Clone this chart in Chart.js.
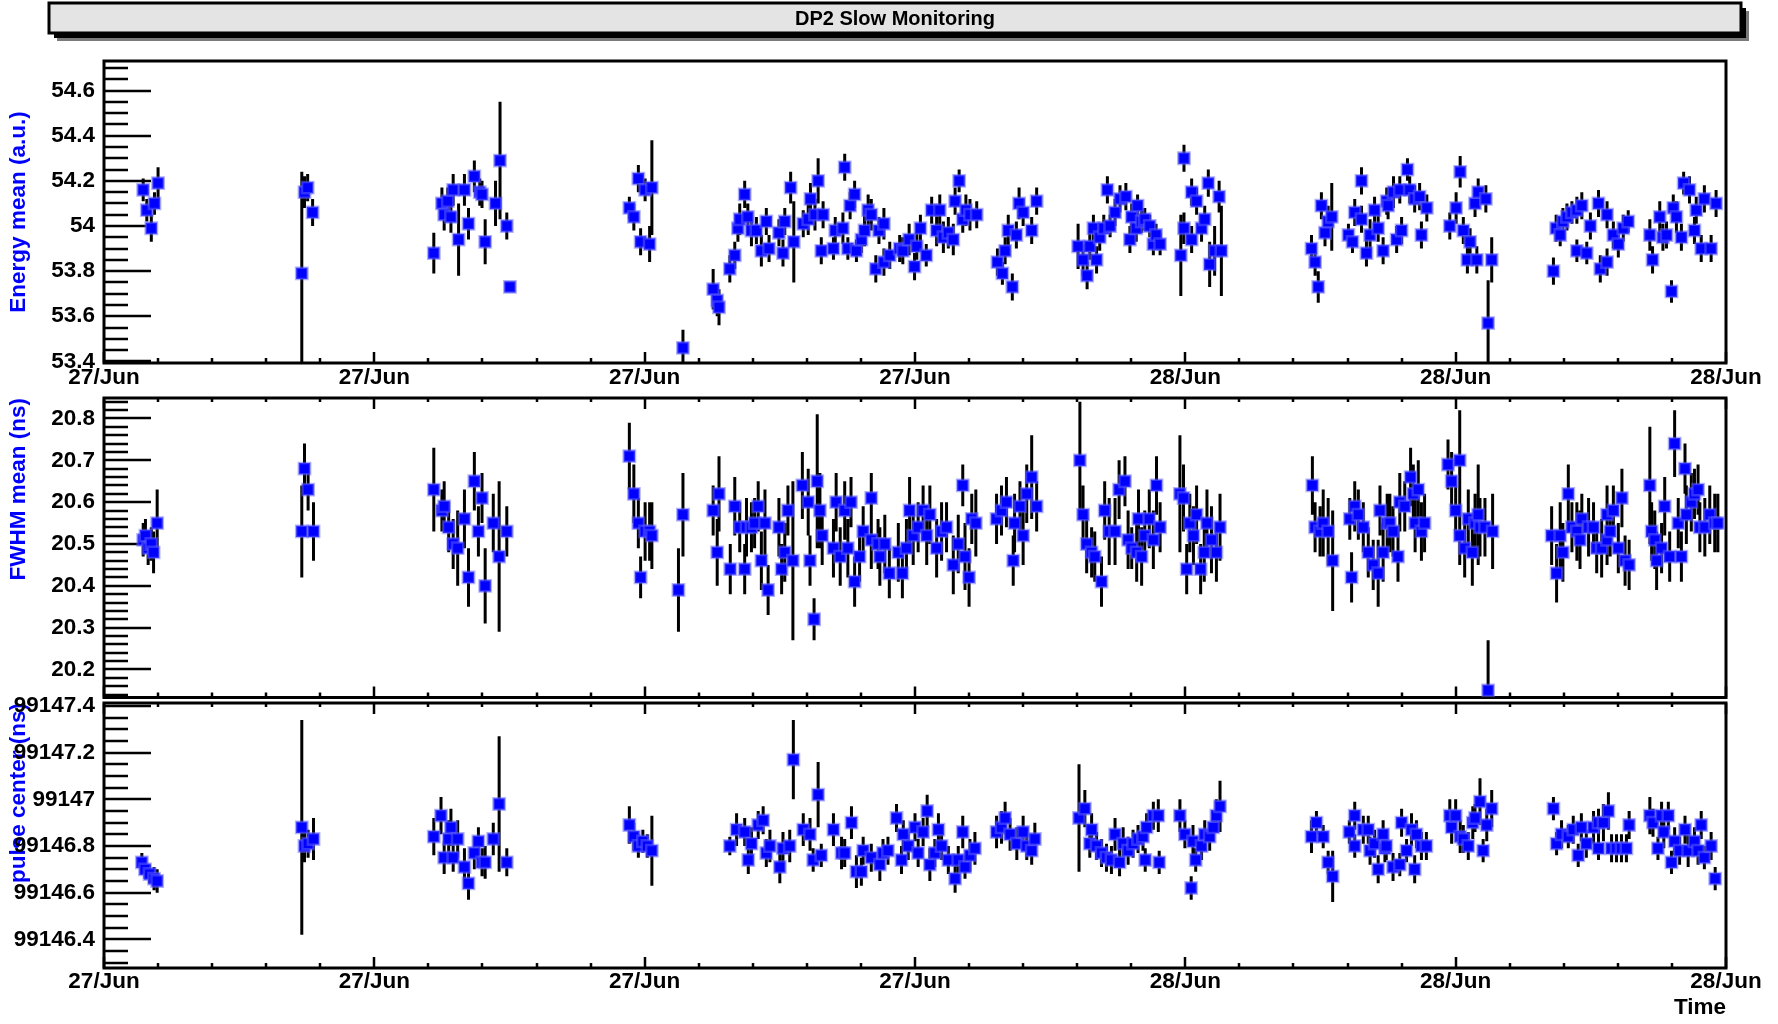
<!DOCTYPE html>
<html>
<head>
<meta charset="utf-8">
<title>DP2 Slow Monitoring</title>
<script src="https://cdn.jsdelivr.net/npm/chart.js@4.4.1/dist/chart.umd.min.js"></script>
<style>
  body { margin: 0; background: #fff; }
  #page { position: relative; width: 1778px; height: 1024px; overflow: hidden; background: #fff; }
  canvas { position: absolute; left: 0; }
</style>
</head>
<body>
<div id="page">
  <canvas id="energy" width="1778" height="400" style="top:0px"></canvas>
  <canvas id="fwhm" width="1778" height="350" style="top:370px"></canvas>
  <canvas id="pulse" width="1778" height="344" style="top:680px"></canvas>
</div>
<script>
"use strict";

// hours since 27/Jun 00:00
const chartTitle = "DP2 Slow Monitoring";
const xMajorTicks = [0, 6, 12, 18, 24, 30, 36];
const xTickLabels = ["27/Jun", "27/Jun", "27/Jun", "27/Jun", "28/Jun", "28/Jun", "28/Jun"];

const energyTicks = [53.4, 53.6, 53.8, 54, 54.2, 54.4, 54.6];
const fwhmTicks = [20.2, 20.3, 20.4, 20.5, 20.6, 20.7, 20.8];
const pulseTicks = [99146.4, 99146.6, 99146.8, 99147, 99147.2, 99147.4];

// [time, mean, error]
const energyData = [
  [0.87,54.16,0.05],[0.95,54.07,0.05],[1.05,53.99,0.06],[1.12,54.10,0.05],[1.2,54.19,0.07],
  [4.39,53.79,0.45],[4.45,54.15,0.07],[4.52,54.17,0.06],[4.63,54.06,0.06],
  [7.32,53.88,0.09],[7.50,54.10,0.07],[7.55,54.05,0.07],[7.63,54.11,0.06],[7.70,54.04,0.07],[7.75,54.16,0.07],
  [7.87,53.94,0.16],[8.0,54.16,0.07],[8.09,54.01,0.07],[8.22,54.22,0.07],[8.34,54.15,0.06],[8.39,54.14,0.06],
  [8.46,53.93,0.1],[8.69,54.10,0.1],[8.79,54.29,0.26],[8.94,54.00,0.06],[9.01,53.73,0.02],
  [11.66,54.08,0.05],[11.76,54.04,0.06],[11.86,54.21,0.06],[11.91,53.93,0.06],[12.01,54.16,0.05],
  [12.11,53.92,0.08],[12.16,54.17,0.21],[12.85,53.46,0.08],
  [13.52,53.72,0.09],[13.61,53.67,0.07],[13.65,53.64,0.08],[13.89,53.81,0.06],[14.0,53.87,0.06],[14.07,53.99,0.06],
  [14.11,54.03,0.07],[14.22,54.14,0.06],[14.29,54.04,0.06],[14.37,53.98,0.07],[14.48,53.98,0.06],[14.59,53.89,0.07],
  [14.7,54.02,0.06],[14.76,53.90,0.06],[14.98,53.97,0.06],[15.07,53.88,0.06],[15.11,54.02,0.06],[15.24,54.17,0.07],
  [15.31,53.93,0.18],[15.52,54.01,0.06],[15.63,54.03,0.07],[15.68,54.12,0.07],[15.78,54.05,0.07],[15.85,54.2,0.1],
  [15.92,53.89,0.06],[15.96,54.05,0.06],[16.19,53.9,0.05],[16.23,53.98,0.06],[16.4,53.99,0.07],[16.44,54.26,0.06],
  [16.51,53.90,0.05],[16.56,54.09,0.06],[16.66,54.14,0.06],[16.7,53.89,0.05],[16.81,53.94,0.06],[16.88,53.98,0.07],
  [16.96,54.07,0.07],[17.03,54.05,0.07],[17.13,53.81,0.06],[17.2,53.98,0.06],[17.31,54.01,0.07],[17.31,53.84,0.06],
  [17.44,53.87,0.06],[17.66,53.90,0.06],[17.73,53.89,0.06],[17.87,53.94,0.07],[17.99,53.82,0.06],[18.04,53.91,0.06],
  [18.12,53.99,0.06],[18.25,53.87,0.05],[18.37,54.07,0.06],[18.48,53.98,0.07],[18.55,54.07,0.07],[18.63,53.95,0.07],
  [18.74,53.97,0.07],[18.85,53.94,0.07],[18.89,54.11,0.06],[18.98,54.20,0.05],[19.06,54.03,0.06],[19.13,54.07,0.07],
  [19.22,54.05,0.07],[19.37,54.05,0.06],[19.83,53.84,0.06],[19.94,53.79,0.05],[20.0,53.89,0.06],[20.07,53.98,0.07],
  [20.16,53.73,0.06],[20.25,53.96,0.06],[20.31,54.10,0.07],[20.4,54.06,0.06],[20.59,53.98,0.06],[20.7,54.11,0.06],
  [21.62,53.91,0.1],[21.73,53.85,0.07],[21.82,53.78,0.06],[21.88,53.91,0.06],[21.96,53.99,0.06],[22.03,53.85,0.06],
  [22.1,53.95,0.06],[22.19,53.99,0.06],[22.27,54.16,0.06],[22.33,54.0,0.05],[22.44,54.06,0.06],[22.55,54.12,0.06],
  [22.68,54.13,0.06],[22.77,53.94,0.06],[22.81,54.04,0.06],[22.91,53.99,0.06],[22.94,54.09,0.05],[23.03,54.02,0.05],
  [23.1,54.03,0.05],[23.21,54.0,0.05],[23.29,53.92,0.05],[23.35,53.96,0.05],[23.44,53.92,0.05],
  [23.9,53.87,0.18],[23.97,54.30,0.06],[23.97,53.99,0.07],[24.14,54.15,0.06],[24.14,53.94,0.06],[24.25,54.11,0.06],
  [24.36,53.99,0.06],[24.43,54.03,0.06],[24.51,54.19,0.06],[24.54,53.83,0.1],[24.65,53.89,0.11],[24.75,54.13,0.07],
  [24.8,53.89,0.2],
  [26.8,53.90,0.06],[26.88,53.84,0.06],[26.95,53.73,0.07],[27.02,54.09,0.06],[27.1,53.97,0.06],[27.17,54.02,0.07],
  [27.25,54.04,0.15],[27.62,53.96,0.05],[27.71,53.93,0.05],[27.76,54.06,0.06],[27.91,54.2,0.06],[27.91,54.03,0.06],
  [28.02,53.88,0.06],[28.1,53.96,0.07],[28.2,54.07,0.06],[28.28,53.99,0.06],[28.39,53.89,0.06],[28.47,54.11,0.06],
  [28.5,54.09,0.06],[28.62,54.15,0.07],[28.69,53.94,0.06],[28.76,54.16,0.06],[28.8,53.98,0.06],[28.93,54.25,0.05],
  [28.98,54.16,0.06],[29.09,54.12,0.06],[29.2,54.13,0.06],[29.24,53.96,0.06],[29.36,54.08,0.06],
  [29.87,54.0,0.06],[30.01,54.08,0.07],[30.1,54.24,0.07],[30.17,53.98,0.06],[30.26,53.85,0.06],[30.32,53.93,0.06],
  [30.43,54.1,0.06],[30.47,53.85,0.06],[30.5,54.15,0.06],[30.67,54.12,0.06],[30.72,53.57,0.19],[30.8,53.85,0.1],
  [32.17,53.80,0.06],[32.23,53.99,0.06],[32.32,53.96,0.05],[32.38,54.02,0.06],[32.47,54.04,0.06],[32.58,54.06,0.05],
  [32.69,53.89,0.05],[32.69,54.07,0.06],[32.8,54.09,0.06],[32.91,53.88,0.05],[32.99,54.0,0.06],[33.17,54.10,0.06],
  [33.21,53.81,0.06],[33.36,53.84,0.06],[33.36,54.05,0.06],[33.5,53.96,0.06],[33.61,53.92,0.06],[33.72,53.99,0.06],
  [33.83,54.02,0.05],
  [34.31,53.96,0.07],[34.37,53.85,0.06],[34.53,54.04,0.07],[34.6,53.95,0.06],[34.68,53.96,0.06],[34.79,53.71,0.05],
  [34.83,54.08,0.06],[34.9,54.04,0.07],[35.01,53.95,0.06],[35.06,54.19,0.05],[35.19,54.16,0.06],[35.3,53.98,0.06],
  [35.34,54.07,0.06],[35.45,53.9,0.06],[35.52,54.12,0.06],[35.67,53.9,0.06],[35.78,54.10,0.06]
];

const fwhmData = [
  [0.87,20.51,0.04],[0.92,20.52,0.04],[0.98,20.49,0.04],[1.05,20.5,0.04],[1.1,20.48,0.05],[1.18,20.55,0.08],
  [4.39,20.53,0.11],[4.45,20.68,0.06],[4.53,20.63,0.05],[4.65,20.53,0.07],
  [7.32,20.63,0.1],[7.50,20.58,0.05],[7.55,20.59,0.06],[7.65,20.54,0.06],[7.75,20.5,0.06],[7.85,20.49,0.09],
  [8.0,20.56,0.07],[8.09,20.42,0.07],[8.22,20.65,0.07],[8.31,20.53,0.06],[8.39,20.61,0.06],[8.46,20.40,0.09],
  [8.64,20.55,0.07],[8.77,20.47,0.18],[8.94,20.53,0.06],
  [11.66,20.71,0.08],[11.76,20.62,0.07],[11.86,20.55,0.06],[11.91,20.42,0.05],[12.01,20.53,0.07],[12.11,20.53,0.07],
  [12.16,20.52,0.08],[12.75,20.39,0.1],[12.85,20.57,0.1],
  [13.52,20.58,0.06],[13.61,20.48,0.08],[13.65,20.62,0.09],[13.9,20.44,0.06],[14.0,20.59,0.07],[14.11,20.54,0.06],
  [14.22,20.44,0.06],[14.26,20.54,0.07],[14.37,20.54,0.06],[14.44,20.55,0.06],[14.52,20.59,0.06],[14.59,20.46,0.07],
  [14.67,20.55,0.08],[14.74,20.39,0.06],[14.98,20.54,0.07],[15.04,20.44,0.06],[15.11,20.48,0.07],[15.18,20.58,0.06],
  [15.29,20.46,0.19],[15.5,20.64,0.08],[15.63,20.60,0.08],[15.67,20.46,0.06],[15.76,20.32,0.05],[15.83,20.65,0.16],
  [15.89,20.58,0.09],[15.94,20.52,0.07],[16.19,20.49,0.07],[16.25,20.6,0.07],[16.34,20.47,0.07],[16.44,20.58,0.07],
  [16.51,20.49,0.07],[16.58,20.6,0.06],[16.66,20.41,0.06],[16.77,20.47,0.06],[16.85,20.53,0.06],[17.03,20.61,0.06],
  [17.03,20.51,0.07],[17.18,20.5,0.06],[17.22,20.47,0.07],[17.33,20.5,0.07],[17.43,20.43,0.06],[17.63,20.48,0.07],
  [17.72,20.43,0.06],[17.81,20.49,0.07],[17.88,20.58,0.08],[17.96,20.52,0.07],[18.07,20.54,0.06],[18.18,20.58,0.06],
  [18.26,20.52,0.07],[18.33,20.57,0.07],[18.48,20.49,0.07],[18.59,20.53,0.07],[18.7,20.54,0.06],[18.85,20.45,0.07],
  [18.96,20.50,0.07],[19.06,20.64,0.05],[19.11,20.47,0.08],[19.2,20.42,0.07],[19.26,20.56,0.06],[19.35,20.55,0.08],
  [19.81,20.56,0.06],[19.92,20.58,0.06],[20.03,20.6,0.06],[20.18,20.46,0.06],[20.21,20.55,0.07],[20.33,20.59,0.06],
  [20.4,20.52,0.07],[20.48,20.62,0.07],[20.59,20.66,0.1],[20.7,20.59,0.06],
  [21.66,20.70,0.14],[21.73,20.57,0.07],[21.81,20.5,0.07],[21.92,20.48,0.06],[21.99,20.47,0.06],[22.14,20.41,0.06],
  [22.21,20.58,0.07],[22.31,20.53,0.08],[22.44,20.53,0.08],[22.53,20.63,0.07],[22.66,20.65,0.06],[22.73,20.51,0.07],
  [22.81,20.49,0.05],[22.92,20.48,0.07],[22.96,20.56,0.07],[23.03,20.47,0.07],[23.1,20.52,0.06],[23.2,20.56,0.07],
  [23.29,20.51,0.07],[23.36,20.64,0.07],[23.44,20.54,0.06],
  [23.88,20.62,0.14],[23.96,20.61,0.08],[24.03,20.44,0.06],[24.1,20.55,0.07],[24.18,20.52,0.07],[24.25,20.57,0.07],
  [24.34,20.44,0.06],[24.42,20.48,0.07],[24.48,20.55,0.08],[24.58,20.51,0.08],[24.69,20.48,0.07],[24.77,20.54,0.08],
  [26.82,20.64,0.07],[26.88,20.54,0.06],[26.99,20.53,0.06],[27.06,20.55,0.08],[27.17,20.53,0.08],[27.27,20.46,0.12],
  [27.65,20.56,0.05],[27.69,20.42,0.06],[27.76,20.59,0.06],[27.84,20.57,0.06],[27.95,20.54,0.06],[28.06,20.48,0.06],
  [28.17,20.45,0.06],[28.28,20.43,0.08],[28.32,20.58,0.06],[28.39,20.48,0.07],[28.48,20.55,0.07],
  [28.54,20.55,0.07],[28.61,20.53,0.06],[28.72,20.47,0.06],[28.76,20.6,0.07],[28.87,20.59,0.06],[29.0,20.66,0.07],
  [29.06,20.62,0.07],[29.1,20.55,0.07],[29.17,20.63,0.07],[29.24,20.53,0.07],[29.31,20.55,0.07],
  [29.83,20.69,0.06],[29.91,20.65,0.07],[30.0,20.58,0.06],[30.09,20.70,0.12],[30.09,20.52,0.07],[30.2,20.49,0.07],
  [30.28,20.56,0.07],[30.37,20.48,0.08],[30.43,20.55,0.07],[30.5,20.57,0.12],[30.54,20.54,0.07],[30.65,20.54,0.07],
  [30.72,20.15,0.12],[30.82,20.53,0.09],
  [32.13,20.52,0.07],[32.24,20.43,0.07],[32.32,20.52,0.08],[32.38,20.48,0.07],[32.5,20.62,0.07],[32.58,20.54,0.06],
  [32.69,20.53,0.07],[32.76,20.51,0.07],[32.8,20.56,0.06],[32.95,20.54,0.07],[33.06,20.54,0.06],[33.13,20.49,0.06],
  [33.24,20.49,0.07],[33.36,20.51,0.06],[33.36,20.57,0.07],[33.43,20.53,0.06],[33.5,20.58,0.06],[33.61,20.49,0.06],
  [33.69,20.61,0.07],[33.76,20.46,0.06],[33.85,20.45,0.06],
  [34.31,20.64,0.14],[34.35,20.53,0.07],[34.42,20.51,0.07],[34.46,20.46,0.07],[34.57,20.49,0.06],[34.64,20.59,0.07],
  [34.75,20.47,0.06],[34.86,20.74,0.08],[34.94,20.55,0.06],[35.01,20.47,0.06],[35.09,20.68,0.06],[35.12,20.57,0.07],
  [35.23,20.6,0.07],[35.3,20.62,0.06],[35.38,20.63,0.06],[35.42,20.54,0.06],[35.53,20.54,0.07],[35.64,20.57,0.07],
  [35.75,20.55,0.07],[35.82,20.55,0.07]
];

const pulseData = [
  [0.84,99146.73,0.04],[0.91,99146.70,0.04],[1.01,99146.68,0.04],[1.11,99146.66,0.05],[1.18,99146.65,0.05],
  [4.39,99146.88,0.46],[4.45,99146.80,0.07],[4.53,99146.81,0.06],[4.65,99146.83,0.09],
  [7.32,99146.84,0.08],[7.48,99146.93,0.08],[7.55,99146.75,0.07],[7.65,99146.83,0.08],[7.70,99146.88,0.08],
  [7.75,99146.75,0.06],[7.85,99146.83,0.08],[8.0,99146.71,0.08],[8.09,99146.64,0.07],[8.22,99146.77,0.07],
  [8.31,99146.82,0.06],[8.39,99146.73,0.06],[8.46,99146.73,0.07],[8.64,99146.83,0.07],[8.77,99146.98,0.29],
  [8.94,99146.73,0.06],
  [11.66,99146.89,0.08],[11.76,99146.84,0.06],[11.86,99146.80,0.05],[11.96,99146.82,0.05],[12.06,99146.80,0.05],
  [12.16,99146.78,0.15],
  [13.89,99146.80,0.04],[14.04,99146.87,0.07],[14.22,99146.86,0.06],[14.3,99146.74,0.06],[14.37,99146.81,0.07],
  [14.52,99146.89,0.06],[14.63,99146.91,0.06],[14.7,99146.77,0.06],[14.78,99146.80,0.07],[15.0,99146.71,0.07],
  [15.07,99146.79,0.07],[15.22,99146.80,0.07],[15.3,99147.17,0.17],[15.52,99146.87,0.07],[15.67,99146.85,0.07],
  [15.74,99146.74,0.05],[15.85,99147.02,0.14],[15.92,99146.76,0.05],[16.19,99146.87,0.07],[16.37,99146.77,0.07],
  [16.44,99146.77,0.06],[16.59,99146.90,0.07],[16.7,99146.69,0.07],[16.81,99146.69,0.06],[16.85,99146.78,0.06],
  [17.03,99146.75,0.06],[17.22,99146.72,0.07],[17.29,99146.77,0.06],[17.4,99146.78,0.06],[17.59,99146.92,0.06],
  [17.7,99146.74,0.06],[17.74,99146.85,0.06],[17.85,99146.80,0.06],[18.0,99146.88,0.06],[18.07,99146.77,0.06],
  [18.18,99146.86,0.06],[18.27,99146.95,0.07],[18.33,99146.72,0.07],[18.44,99146.77,0.06],[18.52,99146.87,0.07],
  [18.59,99146.80,0.06],[18.74,99146.74,0.06],[18.89,99146.66,0.06],[18.96,99146.74,0.06],[19.06,99146.86,0.07],
  [19.11,99146.71,0.05],[19.22,99146.76,0.07],[19.33,99146.79,0.07],
  [19.81,99146.86,0.07],[19.92,99146.88,0.07],[20.0,99146.92,0.07],[20.11,99146.85,0.07],[20.26,99146.81,0.07],
  [20.4,99146.86,0.07],[20.48,99146.80,0.06],[20.59,99146.78,0.06],[20.66,99146.83,0.07],
  [21.64,99146.92,0.23],[21.77,99146.96,0.08],[21.88,99146.81,0.06],[21.92,99146.87,0.07],[22.03,99146.80,0.06],
  [22.14,99146.77,0.06],[22.25,99146.75,0.06],[22.36,99146.74,0.06],[22.44,99146.85,0.07],[22.54,99146.73,0.06],
  [22.62,99146.81,0.07],[22.73,99146.78,0.06],[22.84,99146.81,0.06],[22.95,99146.83,0.06],[23.06,99146.84,0.06],
  [23.11,99146.74,0.05],[23.14,99146.88,0.06],[23.29,99146.93,0.06],[23.4,99146.93,0.07],[23.42,99146.73,0.05],
  [23.88,99146.93,0.07],[23.99,99146.85,0.06],[24.13,99146.62,0.05],[24.17,99146.82,0.07],[24.23,99146.74,0.05],
  [24.36,99146.80,0.06],[24.43,99146.85,0.06],[24.54,99146.84,0.06],[24.62,99146.88,0.06],[24.69,99146.93,0.07],
  [24.77,99146.97,0.11],
  [26.8,99146.84,0.07],[26.91,99146.90,0.05],[27.06,99146.84,0.05],[27.17,99146.73,0.05],[27.27,99146.67,0.11],
  [27.64,99146.86,0.05],[27.76,99146.93,0.06],[27.76,99146.80,0.05],[27.95,99146.87,0.06],[28.06,99146.87,0.06],
  [28.1,99146.78,0.06],[28.2,99146.81,0.06],[28.28,99146.70,0.06],[28.39,99146.85,0.06],[28.43,99146.79,0.06],
  [28.46,99146.80,0.06],[28.61,99146.71,0.06],[28.76,99146.72,0.05],[28.8,99146.90,0.06],[28.91,99146.78,0.05],
  [29.02,99146.87,0.07],[29.09,99146.70,0.06],[29.13,99146.85,0.06],[29.24,99146.80,0.06],[29.35,99146.80,0.06],
  [29.87,99146.93,0.07],[29.91,99146.88,0.07],[30.0,99146.93,0.07],[30.1,99146.84,0.07],[30.17,99146.83,0.06],
  [30.28,99146.80,0.06],[30.38,99146.90,0.07],[30.43,99146.92,0.06],[30.54,99146.99,0.1],[30.61,99146.78,0.05],
  [30.69,99146.89,0.07],[30.8,99146.96,0.08],
  [32.17,99146.96,0.05],[32.24,99146.81,0.05],[32.35,99146.85,0.06],[32.5,99146.84,0.05],[32.61,99146.87,0.06],
  [32.72,99146.76,0.05],[32.79,99146.88,0.06],[32.9,99146.81,0.06],[33.06,99146.88,0.07],[33.17,99146.90,0.06],
  [33.17,99146.79,0.05],[33.28,99146.90,0.08],[33.39,99146.95,0.08],[33.46,99146.79,0.06],[33.57,99146.79,0.06],
  [33.68,99146.79,0.06],[33.79,99146.79,0.06],[33.85,99146.89,0.06],
  [34.31,99146.93,0.08],[34.38,99146.90,0.06],[34.49,99146.79,0.05],[34.57,99146.93,0.06],[34.62,99146.86,0.07],
  [34.72,99146.93,0.06],[34.79,99146.73,0.05],[34.86,99146.82,0.06],[34.97,99146.78,0.06],[35.09,99146.87,0.06],
  [35.16,99146.78,0.07],[35.3,99146.82,0.06],[35.38,99146.78,0.06],[35.45,99146.89,0.06],[35.52,99146.75,0.05],
  [35.67,99146.80,0.06],[35.76,99146.66,0.05]
];

const FONT = "'Liberation Sans', Arial, Helvetica, sans-serif";
const labelFont = { family: FONT, size: 22.5, weight: "bold" };

function minorTicks(min, max, step) {
  let out = [];
  let i = Math.ceil(min / step - 1e-6);
  while (i * step <= max + 1e-9) {
    out.push(i * step);
    i++;
  }
  return out;
}

// ROOT style frame, inside ticks and error bars
const rootFrame = {
  id: "rootFrame",
  beforeDatasetsDraw(chart, args, opts) {
    const ctx = chart.ctx;
    const a = chart.chartArea;
    const xs = chart.scales.x;
    const ys = chart.scales.y;
    ctx.save();
    ctx.strokeStyle = "#000";
    ctx.lineWidth = 2.5;
    ctx.beginPath();
    minorTicks(ys.min, ys.max, opts.minorStep).forEach(function(v) {
      const major = opts.majors.some(m => Math.abs(m - v) < 1e-6);
      const py = Math.round(ys.getPixelForValue(v));
      ctx.moveTo(a.left, py);
      ctx.lineTo(a.left + (major ? 47 : 24), py);
    });
    minorTicks(xs.min, xs.max, 1.2).forEach(function(v, i) {
      const major = i % 5 === 0;
      const px = Math.round(xs.getPixelForValue(v));
      ctx.moveTo(px, a.bottom);
      ctx.lineTo(px, a.bottom - (major ? 11 : 5));
      if (opts.topTicks) {
        ctx.moveTo(px, a.top);
        ctx.lineTo(px, a.top + (major ? 11 : 4));
      }
    });
    ctx.stroke();
    ctx.lineWidth = 3;
    ctx.strokeRect(a.left, a.top, a.right - a.left, a.bottom - a.top);

    ctx.beginPath();
    ctx.rect(a.left, a.top, a.right - a.left, a.bottom - a.top);
    ctx.clip();
    ctx.lineWidth = 3;
    const pts = chart.getDatasetMeta(0).data;
    const raw = chart.data.datasets[0].data;
    ctx.beginPath();
    pts.forEach(function(pt, i) {
      const r = raw[i];
      ctx.moveTo(pt.x, ys.getPixelForValue(r.y + r.e));
      ctx.lineTo(pt.x, ys.getPixelForValue(r.y - r.e));
    });
    ctx.stroke();
    ctx.restore();
  }
};

const titleBox = {
  id: "titleBox",
  beforeDraw(chart) {
    const ctx = chart.ctx;
    ctx.save();
    ctx.fillStyle = "#7a7a7a";
    ctx.fillRect(57, 11, 1692, 30);
    ctx.fillStyle = "#000";
    ctx.fillRect(54, 8, 1692, 30);
    ctx.fillStyle = "#e4e4e4";
    ctx.fillRect(49, 3, 1692, 30);
    ctx.strokeStyle = "#000";
    ctx.lineWidth = 3;
    ctx.strokeRect(49, 3, 1692, 30);
    ctx.fillStyle = "#000";
    ctx.font = "bold 20px " + FONT;
    ctx.textAlign = "center";
    ctx.textBaseline = "middle";
    ctx.fillText(chartTitle, 895, 19);
    ctx.restore();
  }
};

function makePanel(id, cfg) {
  const plugins = [rootFrame];
  if (cfg.withTitle) plugins.push(titleBox);
  return new Chart(document.getElementById(id), {
    type: "scatter",
    data: {
      datasets: [{
        data: cfg.data.map(p => ({ x: p[0], y: p[1], e: p[2] })),
        pointStyle: "rect",
        pointRadius: 8,
        pointHoverRadius: 8,
        pointBackgroundColor: "#0000ff",
        pointBorderColor: "rgba(100,100,255,0.5)",
        pointBorderWidth: 2.5,
        showLine: false
      }]
    },
    plugins: plugins,
    options: {
      responsive: false,
      animation: false,
      devicePixelRatio: 1,
      events: [],
      layout: { padding: { top: cfg.padTop, right: 52, bottom: 0, left: 0 } },
      plugins: {
        legend: { display: false },
        tooltip: { enabled: false },
        rootFrame: { majors: cfg.ticks, minorStep: cfg.minorStep, topTicks: cfg.topTicks }
      },
      scales: {
        x: {
          type: "linear",
          min: 0,
          max: 36,
          afterBuildTicks: s => { s.ticks = xMajorTicks.map(v => ({ value: v })); },
          afterFit: s => { s.height = cfg.xHeight; },
          grid: { display: false, drawTicks: false },
          border: { display: false },
          ticks: {
            display: cfg.xLabels,
            padding: cfg.xPad,
            maxRotation: 0,
            autoSkip: false,
            color: "#000",
            font: labelFont,
            callback: (v, i) => xTickLabels[i]
          },
          title: {
            display: cfg.timeTitle,
            text: "Time",
            align: "end",
            color: "#000",
            font: labelFont,
            padding: { top: 0, bottom: 3 }
          }
        },
        y: {
          min: cfg.min,
          max: cfg.max,
          afterBuildTicks: s => { s.ticks = cfg.ticks.map(v => ({ value: v })); },
          afterFit: s => { s.width = 104; },
          grid: { display: false, drawTicks: false },
          border: { display: false },
          ticks: { padding: 9, color: "#000", font: labelFont, callback: v => String(v) },
          title: {
            display: true,
            text: cfg.yTitle,
            align: cfg.yAlign,
            color: "#0000ff",
            font: labelFont,
            padding: { top: 5, bottom: 0 }
          }
        }
      }
    }
  });
}

makePanel("energy", {
  data: energyData, ticks: energyTicks, minorStep: 0.05, min: 53.393, max: 54.731,
  yTitle: "Energy mean (a.u.)", yAlign: "center", padTop: 61, xHeight: 37,
  xLabels: true, xPad: 1, timeTitle: false, topTicks: false, withTitle: true
});
makePanel("fwhm", {
  data: fwhmData, ticks: fwhmTicks, minorStep: 0.02, min: 20.133, max: 20.849,
  yTitle: "FWHM mean (ns)", yAlign: "end", padTop: 28, xHeight: 17,
  xLabels: false, xPad: 0, timeTitle: false, topTicks: true, withTitle: false
});
makePanel("pulse", {
  data: pulseData, ticks: pulseTicks, minorStep: 0.05, min: 99146.277, max: 99147.413,
  yTitle: "pulse center (ns)", yAlign: "end", padTop: 23, xHeight: 56,
  xLabels: true, xPad: 0, timeTitle: true, topTicks: true, withTitle: false
});
</script>
</body>
</html>
